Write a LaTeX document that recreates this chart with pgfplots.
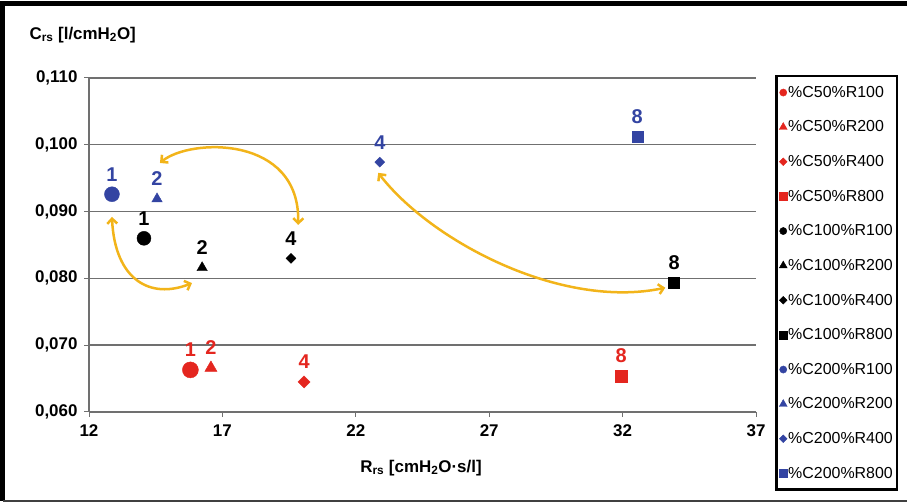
\documentclass[border=0pt]{standalone}
\usepackage{pgfplots}
\pgfplotsset{compat=1.18}
\usepackage{fontspec}
\setmainfont{Liberation Sans}
\usetikzlibrary{arrows.meta}
\definecolor{cred}{HTML}{E4261F}
\definecolor{cblue}{HTML}{3344A2}
\definecolor{cyel}{HTML}{F2B41A}
\definecolor{cgrid}{HTML}{707070}
\pgfplotsset{
  lc/.style={legend image post style={mark size=3.6bp}},
  lt/.style={legend image post style={mark size=4.6bp}},
  ld/.style={mark=square*, mark options={rotate=45}, legend image post style={mark size=2.7bp}},
  ls/.style={legend image post style={mark size=3.8bp}},
}
\begin{document}
\begin{tikzpicture}[x=1bp,y=1bp]
\begin{axis}[
  at={(89bp,92bp)}, anchor=south west,
  width=667bp, height=334bp, scale only axis,
  xmin=12, xmax=37, ymin=0.060, ymax=0.110,
  xtick={12,17,22,27,32,37},
  ytick={0.060,0.070,0.080,0.090,0.100,0.110},
  scaled y ticks=false,
  axis x line*=bottom, axis y line*=left,
  axis line style={cgrid, line width=1.2bp},
  ymajorgrids, grid style={cgrid, line width=1.4bp},
  tick align=outside, major tick length=5bp,
  tick style={cgrid, line width=1bp},
  tick label style={font=\bfseries\fontsize{17}{17}\selectfont},
  /pgf/number format/assume math mode=true,
  yticklabel style={/pgf/number format/fixed, /pgf/number format/fixed zerofill, /pgf/number format/precision=3, /pgf/number format/use comma, xshift=-3bp},
  xticklabel style={yshift=-4bp},
  clip=false,
  nodes near coords style={anchor=center, yshift=20bp, inner sep=0pt, font=\bfseries\fontsize{20}{20}\selectfont},
  legend style={at={(1.0285,1.009)}, anchor=north west, draw=black, line width=2.5bp,
    font=\fontsize{16}{16}\selectfont, row sep=20bp, inner xsep=3bp, inner ysep=9bp,
    nodes={inner sep=1bp}},
  legend cell align=left,
  legend image code/.code={\draw[#1, line width=0.4bp] plot coordinates {(0.14cm,0cm)};},
]
\addplot[only marks, mark=*, mark size=8bp, color=cred, lc, nodes near coords={1}] coordinates {(15.8,0.0663)};
\addlegendentry{\%C50\%R100}
\addplot[only marks, mark=triangle*, mark size=7bp, color=cred, lt, nodes near coords={2}] coordinates {(16.57,0.0666)};
\addlegendentry{\%C50\%R200}
\addplot[only marks, ld, mark size=4.3bp, color=cred, nodes near coords={4}] coordinates {(20.06,0.0645)};
\addlegendentry{\%C50\%R400}
\addplot[only marks, mark=square*, mark size=6bp, color=cred, ls, nodes near coords={8}] coordinates {(31.95,0.0654)};
\addlegendentry{\%C50\%R800}
\addplot[only marks, mark=*, mark size=7bp, color=black, lc, nodes near coords={1}] coordinates {(14.06,0.0860)};
\addlegendentry{\%C100\%R100}
\addplot[only marks, mark=triangle*, mark size=6bp, color=black, lt, nodes near coords={2}] coordinates {(16.24,0.0816)};
\addlegendentry{\%C100\%R200}
\addplot[only marks, ld, mark size=3.5bp, color=black, nodes near coords={4}] coordinates {(19.57,0.0830)};
\addlegendentry{\%C100\%R400}
\addplot[only marks, mark=square*, mark size=5.5bp, color=black, ls, nodes near coords={8}] coordinates {(33.93,0.0793)};
\addlegendentry{\%C100\%R800}
\addplot[only marks, mark=*, mark size=7.5bp, color=cblue, lc, nodes near coords={1}] coordinates {(12.86,0.0926)};
\addlegendentry{\%C200\%R100}
\addplot[only marks, mark=triangle*, mark size=6bp, color=cblue, lt, nodes near coords={2}] coordinates {(14.55,0.0919)};
\addlegendentry{\%C200\%R200}
\addplot[only marks, ld, mark size=3.5bp, color=cblue, nodes near coords={4}] coordinates {(22.9,0.0974)};
\addlegendentry{\%C200\%R400}
\addplot[only marks, mark=square*, mark size=5.5bp, color=cblue, ls, nodes near coords={8}] coordinates {(32.55,0.1012)};
\addlegendentry{\%C200\%R800}
\draw[cyel, line width=2.5bp, {Straight Barb[length=5bp,width=10bp]}-{Straight Barb[length=5bp,width=10bp]}]
  (12.86,0.0892) .. controls (12.97,0.0798) and (14.29,0.0768) .. (15.86,0.0793);
\draw[cyel, line width=2.5bp, {Straight Barb[length=5bp,width=10bp]}-{Straight Barb[length=5bp,width=10bp]}]
  (14.66,0.09728) .. controls (15.79,0.1010) and (19.91,0.1015) .. (19.84,0.0880);
\draw[cyel, line width=2.5bp, {Straight Barb[length=5bp,width=10bp]}-{Straight Barb[length=5bp,width=10bp]}]
  (22.84,0.0958) .. controls (24.79,0.0857) and (29.66,0.0753) .. (33.60,0.0786);
\end{axis}
\node[anchor=west, font=\bfseries\fontsize{17}{17}\selectfont] at (26,469) {C\textsubscript{rs} [l/cmH\textsubscript{2}O]};
\node[anchor=center, font=\bfseries\fontsize{17}{17}\selectfont] at (421,36) {R\textsubscript{rs} [cmH\textsubscript{2}O·s/l]};
\draw[black, line width=5bp] (907,500.5) -- (2.5,500.5) -- (2.5,3);
\draw[black!75, line width=2.5bp] (2.5,3) -- (907,3);
\pgfresetboundingbox
\path[use as bounding box] (0,0) rectangle (907,504);
\end{tikzpicture}
\end{document}
